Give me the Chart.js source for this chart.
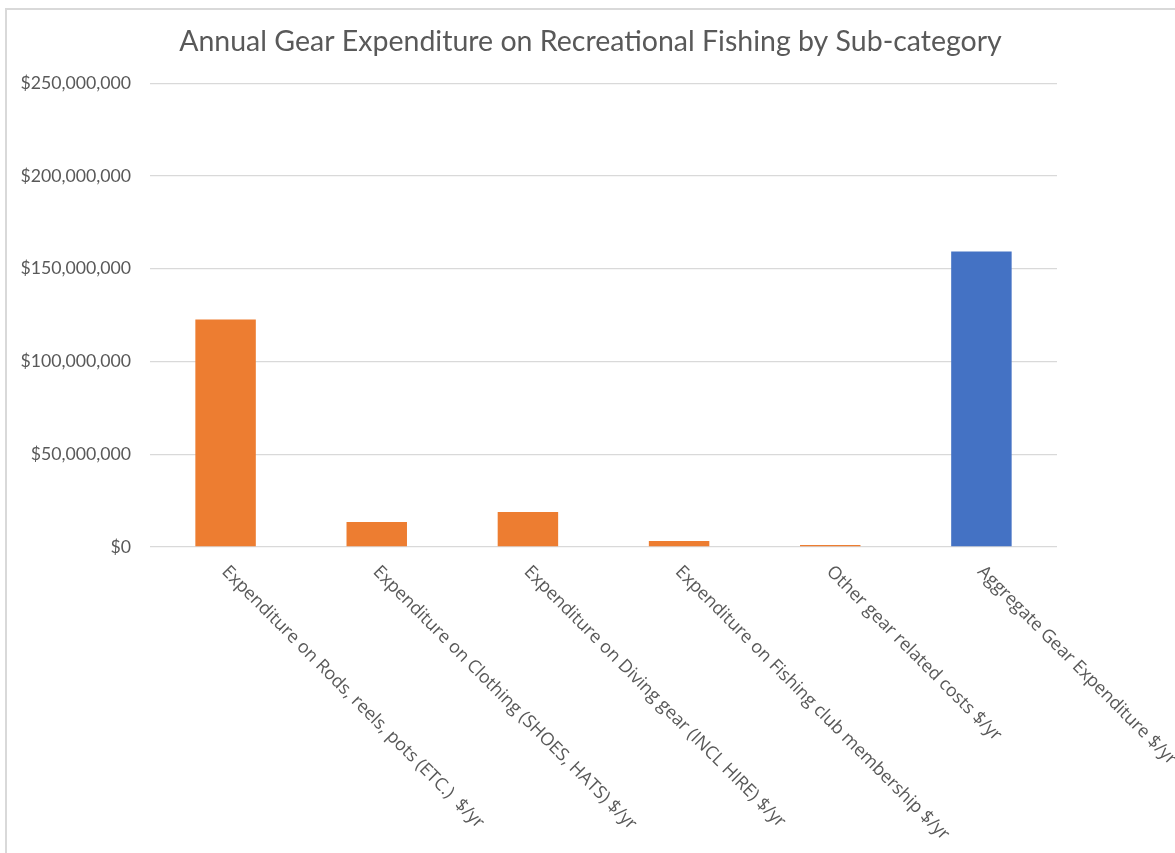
<!DOCTYPE html>
<html>
<head>
<meta charset="utf-8">
<script src="https://cdn.jsdelivr.net/npm/chart.js@4"></script>
<style>
  html, body { margin: 0; padding: 0; background: #fff; overflow: hidden; }
  #wrap { position: relative; width: 1175px; height: 853px; }
  #frame { position: absolute; left: 5px; top: 8px; width: 1400px; height: 1200px; border: 2px solid #d9d9d9; box-sizing: border-box; }
  canvas { position: absolute; left: 0; top: 0; }
</style>
</head>
<body>
<div id="wrap">
  <div id="frame"></div>
  <canvas id="chart" width="1175" height="853"></canvas>
</div>
<script>
const categories = [
  "Expenditure on Rods, reels, pots (ETC.)  $/yr",
  "Expenditure on Clothing (SHOES, HATS) $/yr",
  "Expenditure on Diving gear (INCL HIRE) $/yr",
  "Expenditure on Fishing club membership $/yr",
  "Other gear related costs $/yr",
  "Aggregate Gear Expenditure $/yr",
];
const expenditure = [122600000, 13500000, 18900000, 3200000, 1100000, 159300000];
const yTicks = [0, 50000000, 100000000, 150000000, 200000000, 250000000];

const ORANGE = "#ED7D31";
const BLUE = "#4472C4";
const TEXT = "#595959";
const FONT = "Lato, 'Open Sans', sans-serif";

// x labels are drawn by hand, rotated 45deg clockwise like the original
const slantedLabels = {
  id: "slantedLabels",
  afterDraw(chart) {
    const ctx = chart.ctx;
    const xs = chart.scales.x;
    const bottom = chart.chartArea.bottom;
    ctx.save();
    ctx.font = "17.9px 'Open Sans', sans-serif";
    ctx.fillStyle = TEXT;
    ctx.textAlign = "left";
    ctx.textBaseline = "middle";
    categories.forEach((label, i) => {
      const x = xs.getPixelForTick(i);
      ctx.save();
      ctx.translate(x - 1, bottom + 22);
      ctx.rotate(Math.PI / 4);
      ctx.fillText(label, 0, 0);
      ctx.restore();
    });
    ctx.restore();
  },
};

new Chart(document.getElementById("chart").getContext("2d"), {
  type: "bar",
  data: {
    labels: categories,
    datasets: [
      {
        data: expenditure,
        backgroundColor: expenditure.map((v, i) => (i === expenditure.length - 1 ? BLUE : ORANGE)),
        barPercentage: 0.4,
        categoryPercentage: 1,
      },
    ],
  },
  options: {
    responsive: false,
    animation: false,
    layout: { padding: { left: 6, right: 0, top: 0, bottom: 298 } },
    plugins: {
      legend: { display: false },
      tooltip: { enabled: false },
      title: {
        display: true,
        text: "Annual Gear Expenditure on Recreational Fishing by Sub-category",
        color: TEXT,
        font: { family: FONT, size: 28.5, weight: "normal", lineHeight: 1.2 },
        padding: { top: 25, bottom: 24 },
      },
    },
    scales: {
      x: {
        grid: { display: false },
        border: { display: false },
        ticks: { display: false },
      },
      y: {
        min: 0,
        max: 250000000,
        afterFit: (s) => { s.width = 144; },
        afterBuildTicks: (s) => { s.ticks = yTicks.map((v) => ({ value: v })); },
        border: { display: false },
        grid: { color: "#d9d9d9", lineWidth: 1.3, drawTicks: false },
        ticks: {
          padding: 19,
          color: TEXT,
          font: { family: FONT, size: 17.7 },
          callback: (v) => "$" + v.toLocaleString("en-US"),
        },
      },
      // empty right-hand axis, only keeps the blank margin right of the plot
      spacer: {
        type: "linear",
        position: "right",
        grid: { display: false },
        border: { display: false },
        ticks: { display: false },
        afterFit: (s) => { s.width = 118; },
      },
    },
  },
  plugins: [slantedLabels],
});
</script>
</body>
</html>
